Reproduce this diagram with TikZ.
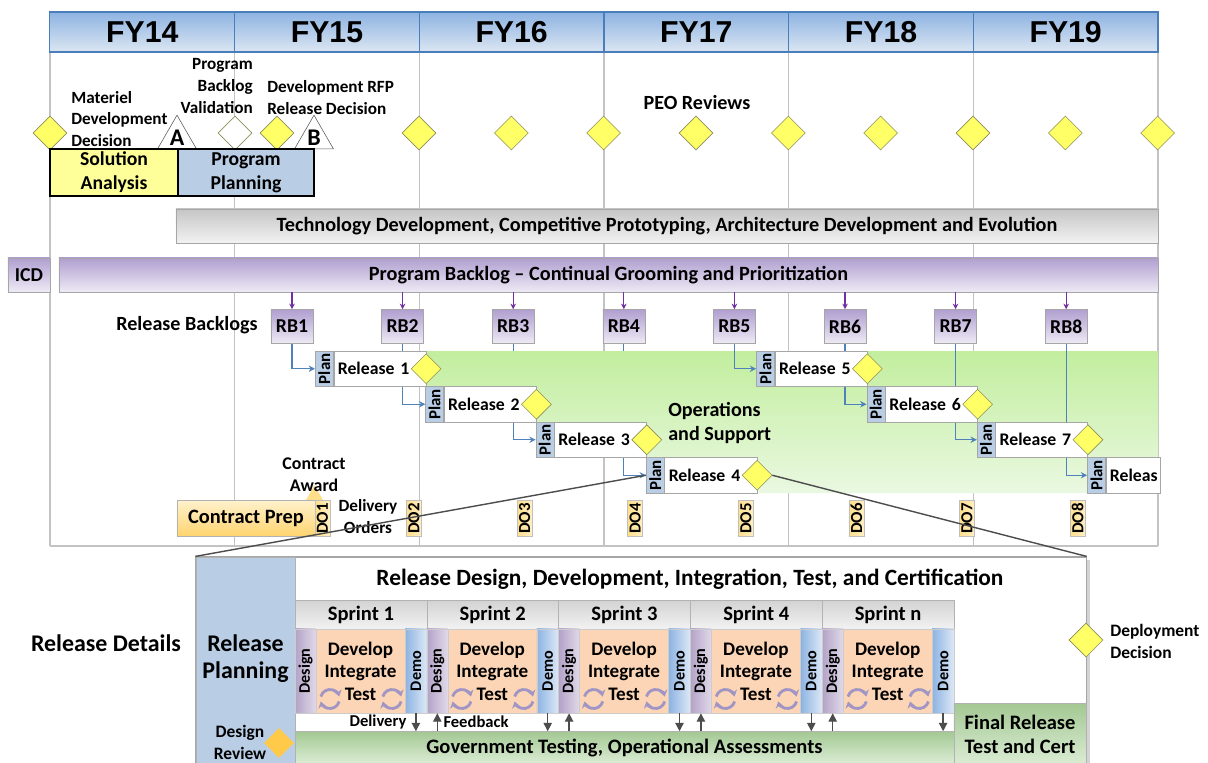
\documentclass[tikz,border=0pt]{standalone}
\usepackage{fontspec}
\usepackage{graphicx}
\setmainfont{Carlito}
\newfontfamily\fyfont{Liberation Sans}
\usepackage{tikz}
\usetikzlibrary{shapes.geometric,arrows.meta,shadows}

\pgfdeclarelayer{grid}
\pgfdeclarelayer{under}
\pgfdeclarelayer{ops}
\pgfdeclarelayer{over}
\pgfsetlayers{grid,under,ops,over,main}

\definecolor{fytop}{HTML}{8DB3E2}
\definecolor{fybot}{HTML}{DCE6F2}
\definecolor{fyline}{HTML}{4A7EBB}
\definecolor{gridgray}{HTML}{C3C3C3}
\definecolor{msyellow}{HTML}{FFFF66}
\definecolor{msedge}{HTML}{8E8E5A}
\definecolor{solyellow}{HTML}{FFFF99}
\definecolor{planblue}{HTML}{B9CDE5}
\definecolor{bltop}{HTML}{B09FD0}
\definecolor{blbot}{HTML}{EEEAF5}
\definecolor{arrowpurple}{HTML}{7030A0}
\definecolor{arrowblue}{HTML}{4F81BD}
\definecolor{opstop}{HTML}{C2EE9E}
\definecolor{opsbot}{HTML}{EAF8E1}
\definecolor{dofill}{HTML}{FFDF8A}
\definecolor{cptop}{HTML}{FFF1CC}
\definecolor{cpbot}{HTML}{FFD46E}
\definecolor{designpurple}{HTML}{B3A2C7}
\definecolor{demoblue}{HTML}{8DB3E2}
\definecolor{devorange}{HTML}{FBD5B5}
\definecolor{govtop}{HTML}{A3C893}
\definecolor{govbot}{HTML}{DCEDD5}
\definecolor{reviewgold}{HTML}{FFC94A}
\definecolor{iconpurple}{HTML}{8072B0}

\tikzset{
  fyhead/.style={draw=fyline, thick, top color=fytop, bottom color=fybot,
    minimum width=4.617cm, minimum height=1cm, inner sep=0,
    font=\fyfont\bfseries\fontsize{21.5}{24}\selectfont},
  gridline/.style={draw=gridgray, line width=1.1pt},
  milestone/.style={diamond, draw=msedge, fill=msyellow, minimum width=0.85cm,
    minimum height=0.85cm, inner sep=0},
  relmile/.style={milestone, minimum width=0.75cm, minimum height=0.75cm},
  gate/.style={regular polygon, regular polygon sides=3, draw=gray!70!black, fill=white,
    minimum size=1.125cm, inner sep=0, font=\bfseries\fontsize{17}{17}\selectfont},
  lbl/.style={inner sep=0, font=\bfseries\fontsize{12.2}{15.4}\selectfont},
  biglbl/.style={inner sep=0, font=\bfseries\fontsize{14.3}{17}\selectfont},
  phasebox/.style={draw=black, thick, minimum height=1.175cm, inner sep=0, align=center,
    font=\bfseries\fontsize{14}{17}\selectfont},
  bigbar/.style={draw=gray!70, minimum height=0.85cm, inner sep=0,
    font=\bfseries\fontsize{14.4}{16}\selectfont},
  techbar/.style={bigbar, top color=gray!45, bottom color=gray!10},
  backlogbar/.style={bigbar, top color=bltop, bottom color=blbot},
  rbbox/.style={backlogbar, minimum width=1.05cm, font=\bfseries\fontsize{14}{16}\selectfont},
  planbox/.style={draw=gray!70, fill=planblue, minimum width=0.45cm, minimum height=0.8875cm,
    inner sep=0, font=\bfseries\fontsize{12}{12}\selectfont},
  relbox/.style={draw=gray!70, fill=white, minimum height=0.8875cm, text width=2.1cm,
    inner xsep=0.1cm, inner ysep=0, align=left, font=\bfseries\fontsize{12.6}{14}\selectfont},
  pullarrow/.style={draw=arrowpurple, thick, -{Stealth[length=4pt,width=4pt]}},
  feedarrow/.style={draw=arrowblue, thick, -{Stealth[length=4.5pt,width=4.5pt]}},
  dobox/.style={draw=gray!50, left color=dofill, right color=dofill!50, minimum width=0.375cm,
    minimum height=0.9cm, inner sep=0, font=\bfseries\fontsize{12}{12}\selectfont},
  detailbox/.style={draw=gray!70, thick, fill=white, minimum width=22.25cm, minimum height=5.225cm,
    drop shadow={opacity=0.35, shadow xshift=2.5pt, shadow yshift=-2.5pt}},
  sprinthead/.style={draw=gray!60, top color=gray!35, bottom color=gray!10, minimum width=3.295cm,
    minimum height=0.725cm, inner sep=0, font=\bfseries\fontsize{14.6}{16}\selectfont},
  designcol/.style={draw=gray!40, left color=designpurple, right color=designpurple!40,
    minimum width=0.525cm, minimum height=2.1cm, inner sep=0,
    font=\bfseries\fontsize{11.5}{11.5}\selectfont},
  democol/.style={designcol, left color=demoblue, right color=demoblue!30, minimum width=0.545cm},
  devcol/.style={draw=gray!40, fill=devorange, minimum width=2.225cm, minimum height=2.1cm,
    inner sep=0, align=center, font=\bfseries\fontsize{13.6}{16}\selectfont},
  greenbox/.style={draw=gray!60, top color=govtop, bottom color=govbot, inner sep=0, align=center,
    font=\bfseries\fontsize{14.6}{17}\selectfont},
  handoff/.style={draw=gray!60!black, line width=1pt, -{Triangle[length=6pt,width=6pt]}},
  cycleicon/.style={draw=iconpurple!75, line width=2pt, -{Stealth[length=4.5pt,width=6pt]}},
  zoomline/.style={draw=gray!60!black, line width=1pt}
}

\begin{document}
\begin{tikzpicture}[x=0.025cm, y=-0.025cm]
\useasboundingbox (0,0) rectangle (1208,762);

% fiscal year header and grid
\foreach \fy [count=\i from 0] in {14,...,19}
  \node[fyhead] (fy\fy) at (142.3+\i*184.67,32) {FY\fy};
\begin{pgfonlayer}{grid}
  \foreach \k in {0,...,6}
    \draw[gridline] (50+\k*184.67,52) -- (50+\k*184.67,546);
  \draw[gridline] (50,546) -- (1158,546);
\end{pgfonlayer}

% milestones and reviews
\node[gate] (gateA) at (177,137.7) {A};
\node[gate] (gateB) at (314,137.7) {B};
\node[milestone] (mdd) at (50,133) {};
\node[milestone, fill=white] (pbv) at (235,133) {};
\node[milestone] (rfp) at (277,133) {};
\foreach \k in {0,...,8}
  \node[milestone] (peo\k) at (419+\k*92.33,133) {};
\node[lbl, anchor=west, align=left] (mddtext) at (71,119) {Materiel\\Development\\Decision};
\node[lbl, anchor=east, align=right] (pbvtext) at (253,86) {Program\\Backlog\\Validation};
\node[lbl, anchor=west, align=left] (rfptext) at (267,97.5) {Development RFP\\Release Decision};
\node[biglbl] (peotext) at (697,103) {PEO Reviews};

% phases
\node[phasebox, fill=solyellow, minimum width=3.2cm] (solution) at (114,172.5) {Solution\\Analysis};
\node[phasebox, fill=planblue, minimum width=3.4cm] (planning) at (246,172.5) {Program\\Planning};
\node[techbar, minimum width=24.55cm] (tech) at (667,226)
  {Technology Development, Competitive Prototyping, Architecture Development and Evolution};
\node[backlogbar, minimum width=1.05cm, font=\bfseries\fontsize{14}{16}\selectfont] (icd) at (29,275) {ICD};
\node[backlogbar, minimum width=27.475cm] (backlog) at (608.5,275)
  {Program Backlog -- Continual Grooming and Prioritization};

% release backlogs
\node[biglbl, anchor=east] (rbtext) at (258,325) {Release Backlogs};
\foreach \i in {1,...,8} {
  \node[rbbox] (rb\i) at (292+\i*110.6-110.6,326.5) {RB\i};
  \draw[pullarrow] (rb\i.north |- backlog.south) -- (rb\i.north);
}

% operations and support
\begin{pgfonlayer}{ops}
  \shade[top color=opstop, bottom color=opsbot] (425.3,351) -- (1158,351) -- (1158,493)
    -- (756.2,493) -- (756.2,457.5) -- (645.9,457.5) -- (645.9,422) -- (535.6,422)
    -- (535.6,386.5) -- (425.3,386.5) -- cycle;
\end{pgfonlayer}
\node[biglbl, anchor=west, align=left] (opstext) at (668,423) {Operations\\and Support};

% releases
\foreach \i/\row in {1/1,2/2,3/3,4/4,5/1,6/2,7/3} {
  \node[planbox, anchor=west] (plan\i) at (315+\i*110.3-110.3,333.25+\row*35.5) {\rotatebox{90}{Plan}};
  \node[relbox, anchor=west] (rel\i) at (plan\i.east) {Release \i};
  \node[relmile] (rm\i) at (rel\i.east) {};
}
\node[planbox, anchor=west] (plan8) at (1087.1,475.25) {\rotatebox{90}{Plan}};
\node[relbox, anchor=west, text width=1.15cm] (rel8) at (plan8.east) {Releas};
\foreach \i/\lay in {1/over,2/over,3/under,4/under,5/over,6/over,7/over,8/over} {
  \begin{pgfonlayer}{\lay}
    \draw[feedarrow] (rb\i.south) |- (plan\i.west);
  \end{pgfonlayer}
}

% contracting
\node[draw=gray!60, top color=cptop, bottom color=cpbot, minimum width=3.45cm, minimum height=0.9cm,
  inner sep=0, font=\bfseries\fontsize{14.5}{17}\selectfont] (cprep) at (246,518.5) {Contract Prep};
\node[regular polygon, regular polygon sides=3, fill=cpbot!80, minimum size=0.49cm, inner sep=0]
  (award) at (314.5,495) {};
\node[lbl, align=center, font=\bfseries\fontsize{12.7}{15.6}\selectfont] (awardtext) at (314,475) {Contract\\Award};
\node[dobox] (do1) at (322.5,518.5) {\rotatebox{90}{DO1}};
\foreach \i in {2,...,8}
  \node[dobox] (do\i) at (414+\i*110.6-221.2,518.5) {\rotatebox{90}{DO\i}};
\node[lbl, align=center] (dotext) at (368,516.5) {Delivery\\Orders};

% release details
\node[font=\bfseries\fontsize{17}{20}\selectfont, inner sep=0] (detailtext) at (106,643) {Release Details};
\node[detailbox] (detail) at (641,661.5) {};
\node[draw=gray!60, fill=planblue, minimum width=2.475cm, minimum height=5.225cm] (relplan) at (245.5,661.5) {};
\node[align=center, inner sep=0, font=\bfseries\fontsize{17}{19.5}\selectfont] (relplantext) at (245.5,658.5) {Release\\Planning};
\node[relmile, fill=reviewgold, draw=none] (review) at (279,743) {};
\node[lbl, align=center, font=\bfseries\fontsize{12.4}{15.6}\selectfont] (reviewtext) at (240,742) {Design\\Review};
\node[inner sep=0, font=\bfseries\fontsize{16.6}{19}\selectfont] (title) at (690,579)
  {Release Design, Development, Integration, Test, and Certification};
\foreach \s [count=\i] in {1,2,3,4,n} {
  \node[sprinthead] (sprint\i) at (229.1+\i*131.8,614.5) {Sprint \s};
  \node[designcol] (des\i) at (173.7+\i*131.8,671) {\rotatebox{90}{Design}};
  \node[devcol] (dev\i) at (228.7+\i*131.8,671) {Develop\\Integrate\\Test};
  \node[democol] (demo\i) at (284.1+\i*131.8,671) {\rotatebox{90}{Demo}};
  \foreach \dx in {35,97} {
    \draw[cycleicon] (163.2+\i*131.8+\dx,699) ++(15:9.5) arc[start angle=15, end angle=165, radius=9.5];
    \draw[cycleicon] (163.2+\i*131.8+\dx,699) ++(195:9.5) arc[start angle=195, end angle=345, radius=9.5];
  }
}
\node[greenbox, minimum width=16.475cm, minimum height=0.8125cm] (gov) at (624.5,747.75)
  {Government Testing, Operational Assessments};
\node[greenbox, minimum width=3.3cm, minimum height=1.575cm] (final) at (1020,734.5)
  {Final Release\\Test and Cert};
\foreach \i in {1,...,5}
  \draw[handoff] (demo\i.south) -- (demo\i.south |- gov.north);
\foreach \i in {2,...,5}
  \draw[handoff] (des\i.south |- gov.north) -- (des\i.south);
\node[font=\bfseries\fontsize{11.8}{14}\selectfont, inner sep=0] (delivtext) at (378,722) {Delivery};
\node[font=\bfseries\fontsize{11.8}{14}\selectfont, inner sep=0] (feedtext) at (476,722) {Feedback};
\node[milestone] (deploy) at (1086,640) {};
\node[lbl, anchor=west, align=left, font=\bfseries\fontsize{12.4}{15.6}\selectfont] (deploytext) at (1110,641) {Deployment\\Decision};

% zoom from release 4
\draw[zoomline] (plan4.west) -- (detail.north west);
\draw[zoomline] (rm4.east) -- (detail.north east);
\end{tikzpicture}
\end{document}
